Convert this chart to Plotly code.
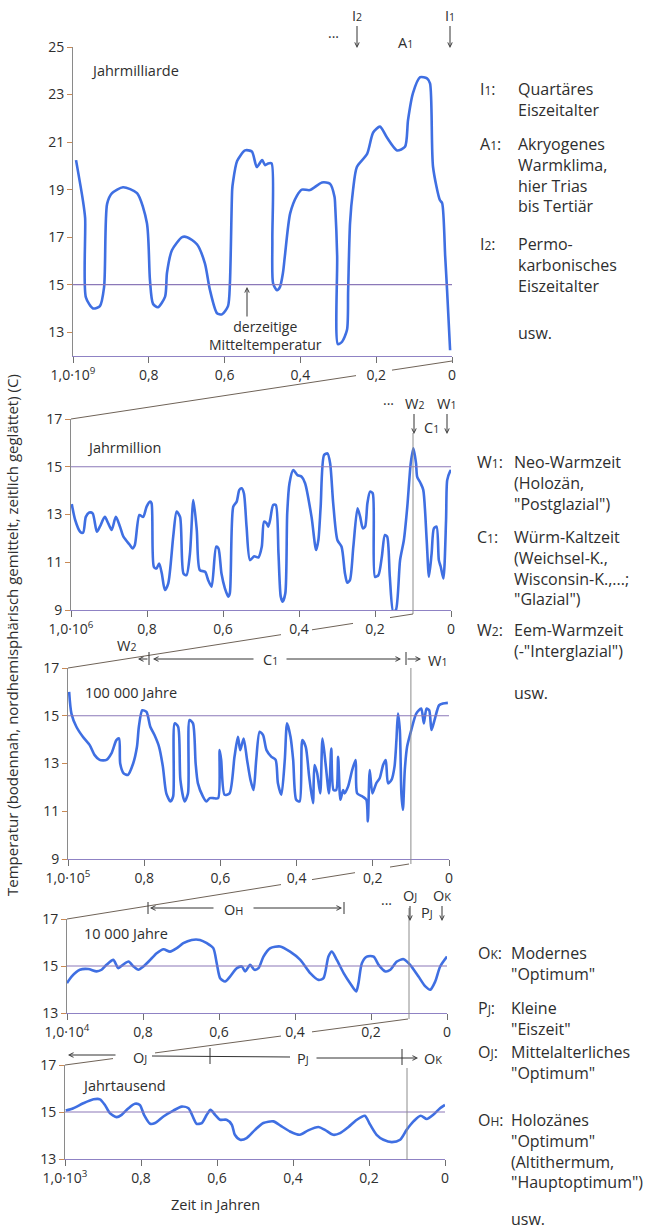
import plotly.graph_objects as go

# ---------------- data ----------------
# Panel 1: Jahrmilliarde  (x in units of 10^9 years before present)
p1_x = [0.992, 0.974, 0.968, 0.966, 0.947, 0.929, 0.918, 0.910, 0.897, 0.868, 0.831, 0.805, 0.797, 0.789, 0.776, 0.757,
        0.752, 0.739, 0.712, 0.699, 0.673, 0.652, 0.639, 0.620, 0.607, 0.591, 0.586, 0.580, 0.578, 0.567, 0.546, 0.528,
        0.515, 0.501, 0.493, 0.485, 0.476, 0.474, 0.472, 0.462, 0.454, 0.446, 0.441, 0.427, 0.409, 0.396, 0.375, 0.343,
        0.322, 0.310, 0.308, 0.303, 0.301, 0.290, 0.277, 0.274, 0.269, 0.261, 0.251, 0.224, 0.208, 0.190, 0.172, 0.145,
        0.124, 0.116, 0.103, 0.084, 0.066, 0.058, 0.050, 0.032, 0.026, 0.018, 0.013, 0.005]
p1_t = [20.24, 18.56, 17.8, 14.47, 14.0, 14.1, 14.9, 18.4, 18.85, 19.1, 18.85, 17.6, 15.2, 14.2, 14.05, 14.5,
        15.5, 16.45, 17.0, 17.0, 16.7, 15.9, 14.8, 13.8, 13.75, 14.1, 15.05, 19.0, 19.3, 20.2, 20.65, 20.6,
        19.95, 20.24, 20.03, 20.1, 20.1, 16.9, 15.05, 14.77, 14.9, 15.5, 16.2, 18.0, 18.75, 19.0, 18.98, 19.3,
        19.25, 18.7, 18.26, 16.2, 12.5, 12.6, 13.1, 14.77, 17.6, 19.0, 19.95, 20.5, 21.4, 21.65, 21.2, 20.65,
        20.8, 21.93, 23.06, 23.73, 23.68, 23.47, 19.95, 18.56, 18.43, 16.2, 14.77, 12.24]

# Panel 2: Jahrmillion (x in units of 10^6 years)
p2_x = [0.998, 0.989, 0.976, 0.968, 0.961, 0.952, 0.943, 0.932, 0.924, 0.911, 0.902, 0.893, 0.882, 0.871, 0.862,
        0.845, 0.838, 0.832, 0.820, 0.810, 0.801, 0.792, 0.788, 0.782, 0.775, 0.768, 0.761, 0.753, 0.744, 0.731,
        0.722, 0.713, 0.704, 0.696, 0.687, 0.678, 0.669, 0.661, 0.647, 0.639, 0.630, 0.618, 0.612, 0.604, 0.595,
        0.586, 0.582, 0.573, 0.564, 0.557, 0.551, 0.545, 0.538, 0.529, 0.518, 0.507, 0.498, 0.492, 0.485, 0.481,
        0.476, 0.468, 0.461, 0.454, 0.448, 0.443, 0.436, 0.431, 0.425, 0.415, 0.404, 0.393, 0.384, 0.367, 0.355,
        0.349, 0.343, 0.334, 0.325, 0.318, 0.310, 0.299, 0.288, 0.279, 0.273, 0.266, 0.257, 0.246, 0.239, 0.232,
        0.226, 0.220, 0.213, 0.206, 0.200, 0.191, 0.182, 0.174, 0.168, 0.161, 0.152, 0.145, 0.134, 0.124, 0.115,
        0.106, 0.099, 0.092, 0.089, 0.080, 0.073, 0.064, 0.058, 0.051, 0.045, 0.038, 0.032, 0.027, 0.020, 0.013,
        0.010, 0.003, 0.000]
p2_t = [13.44, 12.77, 12.28, 12.24, 12.9, 13.08, 13.05, 12.28, 12.49, 12.9, 12.63, 12.35, 12.9, 12.49, 12.07,
        11.72, 11.58, 11.72, 12.98, 12.9, 13.33, 13.54, 13.47, 10.81, 10.74, 10.95, 10.53, 9.84, 10.12, 12.07,
        13.12, 12.9, 10.53, 10.46, 11.36, 13.61, 12.35, 10.67, 10.6, 10.25, 9.98, 11.65, 11.58, 10.53, 9.91,
        9.56, 9.7, 13.33, 13.54, 14.03, 14.1, 13.89, 12.49, 11.09, 11.25, 11.2, 11.65, 12.7, 12.63, 12.49,
        12.77, 13.4, 13.4, 11.36, 9.56, 9.35, 9.7, 13.05, 14.31, 14.86, 14.65, 14.58, 14.31, 12.9, 11.51,
        11.93, 13.33, 15.49, 15.56, 15.14, 13.47, 11.93, 11.65, 10.53, 10.14, 10.25, 11.65, 13.26, 12.9, 12.42,
        12.49, 13.47, 13.96, 13.89, 10.39, 10.46, 11.23, 12.14, 12.07, 10.39, 8.93, 9.0, 11.09, 11.93, 13.33,
        15.14, 15.77, 15.14, 14.58, 14.31, 14.03, 11.93, 10.39, 11.36, 12.42, 12.49, 11.09, 10.81, 10.32, 12.77,
        14.44, 14.79, 14.86]

# Panel 3: 100 000 Jahre (x in units of 10^5 years)
p3_x = [0.997, 0.991, 0.978, 0.961, 0.943, 0.930, 0.917, 0.899, 0.886, 0.873, 0.866, 0.863, 0.854, 0.843, 0.829,
        0.819, 0.814, 0.805, 0.794, 0.784, 0.773, 0.761, 0.751, 0.742, 0.731, 0.724, 0.720, 0.711, 0.705, 0.694,
        0.685, 0.681, 0.672, 0.665, 0.659, 0.646, 0.637, 0.628, 0.619, 0.606, 0.602, 0.598, 0.589, 0.576, 0.563,
        0.554, 0.548, 0.539, 0.530, 0.521, 0.513, 0.506, 0.497, 0.488, 0.479, 0.466, 0.455, 0.449, 0.440, 0.431,
        0.425, 0.416, 0.409, 0.401, 0.392, 0.385, 0.376, 0.367, 0.357, 0.353, 0.346, 0.338, 0.332, 0.324, 0.315,
        0.309, 0.303, 0.296, 0.291, 0.285, 0.278, 0.274, 0.265, 0.254, 0.245, 0.241, 0.227, 0.217, 0.213, 0.208,
        0.201, 0.191, 0.182, 0.173, 0.166, 0.160, 0.151, 0.143, 0.138, 0.134, 0.129, 0.125, 0.121, 0.116, 0.110,
        0.099, 0.086, 0.073, 0.066, 0.059, 0.052, 0.046, 0.038, 0.031, 0.026, 0.016, 0.003]
p3_t = [16.0, 15.09, 14.54, 14.12, 13.77, 13.35, 13.15, 13.15, 13.42, 13.98, 14.05, 13.0, 12.59, 12.52, 13.0,
        13.7, 14.54, 15.23, 15.16, 14.54, 14.19, 13.7, 12.87, 11.75, 11.41, 11.62, 14.68, 14.54, 12.31, 11.41,
        11.75, 14.82, 14.68, 13.0, 12.17, 11.62, 11.41, 11.55, 11.55, 11.55, 13.56, 13.15, 11.69, 11.75, 13.28,
        14.12, 13.56, 14.05, 13.15, 12.31, 11.89, 13.15, 14.33, 14.19, 13.56, 13.28, 13.15, 12.17, 11.69, 13.15,
        14.68, 14.12, 13.15, 11.48, 11.41, 13.98, 13.7, 12.45, 11.34, 12.94, 12.59, 11.75, 14.05, 13.0, 11.75,
        13.63, 11.89, 11.89, 13.28, 11.48, 11.89, 11.75, 12.03, 12.73, 13.15, 11.75, 11.62, 11.48, 10.57, 12.73,
        11.75, 12.17, 12.38, 12.94, 13.15, 12.17, 12.31, 12.87, 13.98, 15.09, 14.4, 11.75, 11.06, 12.73, 13.7,
        14.4, 15.09, 15.3, 14.68, 15.3, 15.23, 14.4, 14.82, 15.23, 15.44, 15.51, 15.54]

# Panel 4: 10 000 Jahre (x in units of 10^4 years)
p4_x = [1.0, 0.988, 0.966, 0.944, 0.922, 0.909, 0.896, 0.878, 0.865, 0.853, 0.838, 0.825, 0.812, 0.799, 0.781,
        0.764, 0.746, 0.729, 0.711, 0.694, 0.672, 0.650, 0.632, 0.615, 0.606, 0.597, 0.584, 0.571, 0.553, 0.540,
        0.531, 0.518, 0.507, 0.496, 0.483, 0.465, 0.439, 0.413, 0.386, 0.360, 0.338, 0.325, 0.312, 0.303, 0.290,
        0.272, 0.255, 0.239, 0.233, 0.224, 0.211, 0.193, 0.180, 0.162, 0.149, 0.132, 0.114, 0.097, 0.075, 0.057,
        0.044, 0.031, 0.018, 0.0]
p4_t = [14.27, 14.55, 14.84, 14.87, 14.77, 14.84, 15.05, 15.26, 14.91, 15.05, 15.19, 14.98, 14.84, 14.98, 15.26,
        15.54, 15.71, 15.61, 15.76, 15.97, 16.11, 16.11, 15.97, 15.76, 15.12, 14.48, 14.34, 14.55, 14.91, 14.98,
        14.77, 15.05, 14.84, 14.91, 15.40, 15.76, 15.83, 15.61, 15.26, 14.70, 14.41, 14.48, 15.40, 15.61, 15.26,
        14.70, 14.27, 13.92, 14.27, 15.12, 15.40, 15.40, 15.05, 14.77, 14.84, 15.19, 15.29, 15.05, 14.55, 14.13,
        13.99, 14.34, 14.98, 15.40]

# Panel 5: Jahrtausend (x in units of 10^3 years)
p5_x = [0.998, 0.978, 0.952, 0.925, 0.908, 0.895, 0.882, 0.864, 0.851, 0.833, 0.816, 0.803, 0.792, 0.776, 0.763,
        0.741, 0.715, 0.693, 0.675, 0.662, 0.654, 0.640, 0.627, 0.617, 0.605, 0.592, 0.575, 0.561, 0.553, 0.539,
        0.522, 0.500, 0.478, 0.452, 0.430, 0.408, 0.382, 0.360, 0.333, 0.316, 0.294, 0.276, 0.254, 0.232, 0.211,
        0.197, 0.180, 0.162, 0.140, 0.118, 0.101, 0.083, 0.064, 0.048, 0.031, 0.013, 0.0]
p5_t = [15.06, 15.16, 15.37, 15.54, 15.54, 15.30, 14.95, 14.78, 14.88, 15.16, 15.35, 15.30, 14.88, 14.50, 14.53,
        14.81, 15.06, 15.23, 15.16, 14.74, 14.50, 14.53, 14.88, 15.09, 14.88, 14.67, 14.67, 14.46, 14.03, 13.82,
        13.89, 14.24, 14.53, 14.60, 14.39, 14.17, 14.03, 14.22, 14.36, 14.24, 14.03, 14.10, 14.36, 14.67, 14.84,
        14.46, 14.03, 13.82, 13.72, 13.82, 14.24, 14.60, 14.84, 14.70, 14.88, 15.16, 15.30]

x_tickvals = [1.0, 0.8, 0.6, 0.4, 0.2, 0.0]
x_ticktext_tail = ["0,8", "0,6", "0,4", "0,2", "0"]
exponents = ["9", "6", "5", "4", "3"]
panel_names = ["Jahrmilliarde", "Jahrmillion", "100 000 Jahre", "10 000 Jahre", "Jahrtausend"]
y_ranges = [[12, 25], [9, 17], [9, 17], [13, 17], [13, 17]]
y_ticks = [[13, 15, 17, 19, 21, 23, 25], [9, 11, 13, 15, 17], [9, 11, 13, 15, 17], [13, 15, 17], [13, 15, 17]]
current_temp = 15
zoom_mark = 0.1

# ---------------- layout helpers ----------------
W, H = 661, 1231
FONT = "Open Sans"
TXT = "#2e2e2e"
BLUE = "#3f6fe2"
TICK_FS = 14
NAME_FS = 14.5
HEAD_FS = 14.5
LS = 16
LINE_H = 1.3 * LS   # plotly line height for <br>

def X(px):
    return px / W

def Y(py):
    return 1 - py / H

# pixel frames of the five panels (left, right, top, bottom)
frames = [(73, 452, 47, 356), (71, 451, 419, 610), (68, 449, 668, 859), (67, 447, 919, 1013), (65, 445, 1065, 1159)]
name_pos = [(89, 70), (85, 447), (83, 692), (82, 933), (80, 1085)]

series = [(p1_x, p1_t), (p2_x, p2_t), (p3_x, p3_t), (p4_x, p4_t), (p5_x, p5_t)]

fig = go.Figure()
layout = dict(width=W, height=H, margin=dict(l=0, r=0, t=0, b=0, pad=0, autoexpand=False), paper_bgcolor="white",
              plot_bgcolor="white", showlegend=False, font=dict(family=FONT, color=TXT, size=13))
shapes = []
annotations = []

def txt(px, py, text, size=13, xanchor="center", **kw):
    annotations.append(dict(x=X(px), y=Y(py), xref="paper", yref="paper", text=text, showarrow=False,
                            xanchor=xanchor, yanchor="middle", font=dict(family=FONT, size=size, color=TXT), **kw))

def arrow(hx, hy, tx, ty, text="", size=HEAD_FS, head=5):
    annotations.append(dict(x=X(hx), y=Y(hy), xref="paper", yref="paper", ax=tx - hx, ay=ty - hy,
                            text=text, showarrow=True, arrowhead=head, arrowsize=0.9, arrowwidth=1,
                            arrowcolor="#333333", font=dict(family=FONT, size=size, color=TXT)))

def seg(x0, y0, x1, y1, color="#555555", width=1):
    shapes.append(dict(type="line", xref="paper", yref="paper", x0=X(x0), y0=Y(y0), x1=X(x1), y1=Y(y1),
                       line=dict(color=color, width=width)))

def broken_line(p, q, gaps, color="#6f6358"):
    (x0, y0), (x1, y1) = p, q
    xs = [x0]
    for a, b in gaps:
        xs += [a, b]
    xs.append(x1)
    for i in range(0, len(xs), 2):
        xa, xb = xs[i], xs[i + 1]
        ya = y0 + (y1 - y0) * (xa - x0) / (x1 - x0)
        yb = y0 + (y1 - y0) * (xb - x0) / (x1 - x0)
        seg(xa, ya, xb, yb, color=color, width=1)

def sm(base, small, size=10.5):
    return f"{base}<span style='font-size:{size}px'>{small}</span>"

for i, ((xs, ts), (l, r, t, b)) in enumerate(zip(series, frames), start=1):
    sfx = "" if i == 1 else str(i)
    xa, ya = "x" + sfx, "y" + sfx
    fig.add_trace(go.Scatter(x=xs, y=ts, mode="lines", xaxis=xa, yaxis=ya, hoverinfo="skip",
                             line=dict(color=BLUE, width=2.6, shape="spline", smoothing=0.7)))
    layout["xaxis" + sfx] = dict(domain=[X(l), X(r)], range=[1.0, 0.0], anchor=ya, showgrid=False, zeroline=False,
                                 automargin=False, tickvals=x_tickvals,
                                 ticktext=[f"1,0·10<sup>{exponents[i-1]}</sup>"] + x_ticktext_tail,
                                 showline=True, linecolor="#8f82c4", linewidth=1.3, ticks="outside", ticklen=6,
                                 tickcolor="#6f6f6f", tickfont=dict(family=FONT, size=TICK_FS, color=TXT))
    layout["yaxis" + sfx] = dict(domain=[Y(b), Y(t)], range=y_ranges[i - 1], anchor=xa, showgrid=False,
                                 automargin=False, zeroline=False, tickvals=y_ticks[i - 1], showline=True,
                                 linecolor="#8a8a8a", linewidth=1, ticks="outside", ticklen=5, tickcolor="#c98a55",
                                 tickfont=dict(family=FONT, size=TICK_FS, color=TXT))
    # present-day mean temperature line
    shapes.append(dict(type="line", xref=xa, yref=ya, x0=1.0, x1=0.0, y0=current_temp, y1=current_temp,
                       line=dict(color="#8b78b8", width=1.2)))
    txt(name_pos[i - 1][0], name_pos[i - 1][1], panel_names[i - 1], size=NAME_FS, xanchor="left")

# vertical markers at 0.1 (zoomed window of the next panel)
for sfx, y0, y1 in [("2", 433, 614), ("3", 668, 864), ("4", 908, 1019), ("5", 1068, 1160)]:
    shapes.append(dict(type="line", xref="x" + sfx, yref="paper", x0=zoom_mark, x1=zoom_mark, y0=Y(y1), y1=Y(y0),
                       line=dict(color="#8c8c8c", width=1)))

# slanted connecting lines between panels
broken_line((71, 419), (452, 361), [(356, 392)])
broken_line((68, 668), (413, 614), [(281, 312), (353, 390)])
broken_line((67, 919), (409, 864), [(281, 312), (355, 390)])
broken_line((65, 1065), (408, 1019), [(113, 155), (281, 312)])

# ---- panel 1 header ----
txt(333, 36, "···", size=14)
arrow(357, 48, 357, 15, sm("I", "2"))
txt(405, 43, sm("A", "1"), size=HEAD_FS)
arrow(450, 48, 450, 15, sm("I", "1"))
# derzeitige Mitteltemperatur
arrow(247, 287, 247, 318)
annotations.append(dict(x=X(265), y=Y(335.5), xref="paper", yref="paper", showarrow=False,
                        text="derzeitige<br>Mitteltemperatur", xanchor="center", yanchor="middle",
                        font=dict(family=FONT, size=14, color=TXT)))

# ---- panel 2 header ----
txt(388, 404, "···", size=14)
arrow(414, 434, 414, 403, sm("W", "2"))
txt(432, 427, sm("C", "1"), size=HEAD_FS)
arrow(447, 434, 447, 403, sm("W", "1"))

# ---- panel 3 header ----
txt(126, 645, sm("W", "2"), size=HEAD_FS)
arrow(138, 659, 149, 659)
seg(149, 652, 149, 665, color="#333333")
arrow(153, 659, 255, 659)
txt(270, 659, sm("C", "1"), size=HEAD_FS)
arrow(401, 659, 285, 659)
seg(406, 652, 406, 665, color="#333333")
arrow(421, 659, 406, 659)
txt(437, 660, sm("W", "1"), size=HEAD_FS)

# ---- panel 4 header ----
seg(148, 902, 148, 914, color="#333333")
arrow(150, 908, 215, 908)
txt(233, 909, sm("O", "H", 11), size=HEAD_FS)
arrow(342, 908, 252, 908)
seg(344, 902, 344, 914, color="#333333")
txt(387, 903, "···", size=14)
arrow(410, 921, 410, 895, sm("O", "J", 11))
arrow(442, 921, 442, 895, sm("O", "K", 11))
txt(427, 913, sm("P", "J", 11), size=HEAD_FS)

# ---- panel 5 header ----
arrow(68, 1055, 117, 1055)
txt(140, 1057, sm("O", "J", 11), size=HEAD_FS)
seg(152, 1056, 290, 1057, color="#333333")
seg(210, 1048, 210, 1064, color="#333333")
txt(303, 1058, sm("P", "J", 11), size=HEAD_FS)
arrow(418, 1058, 315, 1058)
seg(402, 1049, 402, 1065, color="#333333")
txt(433, 1058, sm("O", "K", 11), size=HEAD_FS)

# axis titles
annotations.append(dict(x=X(12), y=Y(635), xref="paper", yref="paper", showarrow=False, textangle=-90,
                        text="Temperatur (bodennah, nordhemisphärisch gemittelt, zeitlich geglättet) (C)",
                        xanchor="center", yanchor="middle", font=dict(family=FONT, size=15, color=TXT)))
txt(215, 1204, "Zeit in Jahren", size=14.5)

# ---- right-hand legend texts ----
legend_groups = [
    (478, 516, [(sm("I", "1", 12) + ":", ["Quartäres", "Eiszeitalter"], 89),
                (sm("A", "1", 12) + ":", ["Akryogenes", "Warmklima,", "hier Trias", "bis Tertiär"], 144),
                (sm("I", "2", 12) + ":", ["Permo-", "karbonisches", "Eiszeitalter"], 244),
                ("", ["usw."], 333)]),
    (475, 512, [(sm("W", "1", 12) + ":", ["Neo-Warmzeit", "(Holozän,", "\"Postglazial\")"], 462),
                (sm("C", "1", 12) + ":", ["Würm-Kaltzeit", "(Weichsel-K.,", "Wisconsin-K.,...;", "\"Glazial\")"], 537),
                (sm("W", "2", 12) + ":", ["Eem-Warmzeit", "(-\"Interglazial\")"], 630),
                ("", ["usw."], 693)]),
    (476, 509, [(sm("O", "K", 12) + ":", ["Modernes", "\"Optimum\""], 953),
                (sm("P", "J", 12) + ":", ["Kleine", "\"Eiszeit\""], 1008),
                (sm("O", "J", 12) + ":", ["Mittelalterliches", "\"Optimum\""], 1052),
                (sm("O", "H", 12) + ":", ["Holozänes", "\"Optimum\"", "(Altithermum,", "\"Hauptoptimum\")"], 1120),
                ("", ["usw."], 1219)]),
]
for lx, tx, entries in legend_groups:
    for label, lines, y0 in entries:
        if label:
            txt(lx, y0, label, size=LS, xanchor="left")
        center = y0 + (len(lines) - 1) * LINE_H / 2
        annotations.append(dict(x=X(tx), y=Y(center), xref="paper", yref="paper", showarrow=False,
                                text="<br>".join(lines), align="left", xanchor="left", yanchor="middle",
                                font=dict(family=FONT, size=LS, color=TXT)))

layout["shapes"] = shapes
layout["annotations"] = annotations
fig.update_layout(**layout)
fig.write_html("out.html", config={"displayModeBar": False, "staticPlot": True},
               post_script="document.body.style.margin='0px';")
